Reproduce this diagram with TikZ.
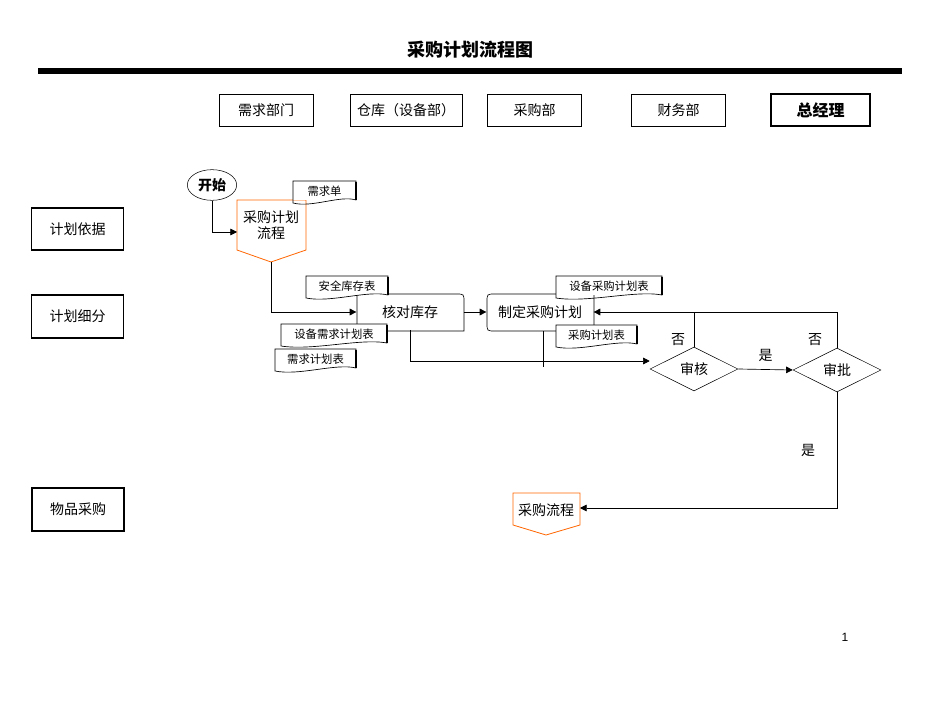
\documentclass[tikz,border=0pt]{standalone}
\usepackage{fontspec}
\setmainfont{Liberation Sans}
\newfontfamily\cjk{Noto Sans CJK SC}
\usetikzlibrary{shapes.geometric,arrows.meta}
\begin{document}
\begin{tikzpicture}[x=0.75pt,y=-0.75pt,
  every node/.style={font=\cjk\fontsize{10.5}{12}\selectfont},
  hdr/.style={draw,thin,minimum width=70.5pt,minimum height=24pt,inner sep=0pt},
  lane/.style={draw,line width=1.3pt,minimum width=69pt,minimum height=32pt,inner sep=0pt},
  proc/.style={draw=none,minimum width=80pt,minimum height=27pt,inner sep=0pt},
  doctxt/.style={font=\cjk\fontsize{8.5}{10}\selectfont,minimum height=15pt,inner sep=2pt,minimum width=#1},
  dia/.style={diamond,draw,aspect=2,minimum width=66pt,minimum height=33pt,inner sep=0pt},
  arr/.style={-{Triangle[length=5pt,width=5pt]},line width=0.5pt},
  ln/.style={line width=0.5pt},
  offp/.style={draw=orange!80!red,line width=0.6pt}]
\fill[white] (0,0) rectangle (950,713);
\node[font=\cjk\bfseries\fontsize{13.5}{15}\selectfont] (title) at (470,50) {采购计划流程图};
\draw[line width=4pt] (38,71) -- (902,71);
% headers
\node[hdr] (h1) at (266,110) {需求部门};
\node[hdr,minimum width=84pt] (h2) at (406,110) {仓库（设备部）};
\node[hdr] (h3) at (534.5,110) {采购部};
\node[hdr] (h4) at (678.5,110) {财务部};
\node[hdr,line width=1.2pt,minimum width=74pt,font=\cjk\bfseries\fontsize{12}{14}\selectfont] (h5) at (820.5,110) {总经理};
% lanes
\node[lane] (l1) at (77.5,229) {计划依据};
\node[lane] (l2) at (77.5,316.5) {计划细分};
\node[lane] (l3) at (78,509.5) {物品采购};
% start
\node[ellipse,draw,minimum width=37pt,minimum height=23pt,inner sep=0pt,font=\cjk\bfseries\fontsize{10.5}{12}\selectfont] (start) at (212,185) {开始};
% pentagon 1
\draw[offp] (237,200) -- (306,200) -- (306,250) -- (271,262) -- (237,250) -- cycle;
\node[align=center,inner sep=0pt] (p1) at (271,225) {采购计划\\流程};
\coordinate (p1w) at (237,232);
\coordinate (p1s) at (271,262);
% pentagon 2
\draw[offp] (513,493) -- (580,493) -- (580,525) -- (546,535) -- (513,525) -- cycle;
\node[inner sep=0pt] (p2) at (546,510) {采购流程};
\coordinate (p2e) at (580,508);
% process boxes
\draw[ln] (365,294) -- (456,294) .. controls (464,294) .. (464,302) -- (464,331) -- (365,331) .. controls (357,331) .. (357,323) -- (357,294) -- cycle;
\node[proc] (k) at (410,312) {核对库存};
\draw[ln] (495,294) -- (594,294) -- (594,323) .. controls (594,331) .. (586,331) -- (495,331) .. controls (487,331) .. (487,323) -- (487,302) .. controls (487,294) .. (495,294);
\node[proc] (z) at (540,312) {制定采购计划};
% documents
\foreach \nm/\x/\y/\w/\t in {d1/293/181/63/需求单, d2/306/276/82/安全库存表, d3/281/324/106/设备需求计划表, d4/275/349/81/需求计划表, d5/556/276/106/设备采购计划表, d6/556/325/81/采购计划表}{
  \fill[white] (\x,\y) rectangle (\x+\w,\y+19);
  \draw[line width=0.5pt] (\x,\y) -- (\x+\w,\y) -- (\x+\w,\y+19) .. controls (\x+0.75*\w,\y+14) and (\x+0.3*\w,\y+27) .. (\x,\y+22) -- cycle;
  \draw[line width=1.2pt] (\x+\w,\y+1) -- (\x+\w,\y+19);
  \node[doctxt=\w*0.75pt] (\nm) at (\x+\w/2,\y+10) {\t};
}
% diamonds
\node[dia] (sh) at (694,369) {审核};
\node[dia] (sp) at (837,370) {审批};
% connectors
\draw[arr] (start.south) |- (p1w);
\draw[arr] (p1s) |- (k.west);
\draw[arr] (k.east) -- (z.west);
\draw[arr] (k.south) |- ([yshift=6pt]sh.west);
\draw[ln] (543,331) -- (543,367);
\draw[arr] (sh.east) -- node[above=2pt]{是} (sp.west);
\draw[arr] (sh.north) |- (z.east);
\draw[ln] (sp.north) |- (sh.north |- z.east);
\draw[arr] (sp.south) |- (p2e);
\node (n1) at (678,340) {否};
\node (n2) at (815,340) {否};
\node (n3) at (808,450) {是};
\node[font=\rmfamily\fontsize{9}{10}\selectfont] (pg) at (845,637) {1};
\end{tikzpicture}
\end{document}
